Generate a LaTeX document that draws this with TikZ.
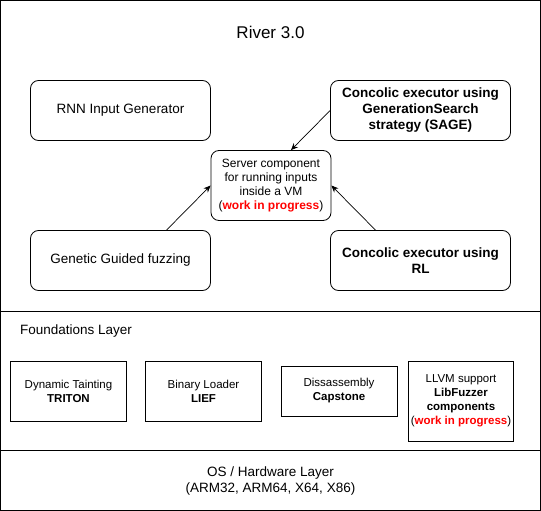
\documentclass[tikz,border=0pt]{standalone}
\usepackage{fontspec}
\setmainfont{Liberation Sans}
\usetikzlibrary{positioning, arrows.meta}

\begin{document}
\begin{tikzpicture}[
    x=1pt, y=-1pt,
    module/.style={
        rectangle,
        draw=black,
        line width=0.8pt,
        minimum width=180pt,
        minimum height=60pt,
        inner sep=2pt,
        rounded corners=8pt,
        align=center,
        font=\fontsize{13.5}{16}\selectfont
    },
    server/.style={
        module,
        minimum width=120pt,
        minimum height=70pt,
        font=\fontsize{12}{14}\selectfont
    },
    base/.style={
        rectangle,
        draw=black,
        line width=0.8pt,
        minimum width=116pt,
        minimum height=60pt,
        inner sep=2pt,
        align=center,
        font=\fontsize{11.5}{14}\selectfont
    },
    layer/.style={draw=black, line width=0.8pt},
    arrow/.style={-{Stealth[length=7pt, width=6pt]}, line width=0.7pt},
    label/.style={font=\fontsize{13.5}{16}\selectfont},
    title/.style={font=\fontsize{17}{20}\selectfont}
]
\definecolor{wip}{RGB}{255,0,0}
\useasboundingbox (-0.5,-0.5) rectangle (540.5,510.5);

% Layers
\draw[layer] (0,0) rectangle (540,311);
\draw[layer] (0,311) rectangle (540,450);
\draw[layer] (0,450) rectangle (540,510);

% Title
\node[title] (river) at (270,32) {River 3.0};

% River components
\node[module] (rnn) at (120,110) {RNN Input Generator};
\node[module] (sage) at (420,110) {\textbf{Concolic executor using}\\\textbf{GenerationSearch}\\\textbf{strategy (SAGE)}};
\node[server] (vmserver) at (270.5,185) {Server component\\for running inputs\\inside a VM\\(\textbf{\textcolor{wip}{work in progress}})};
\node[module] (genetic) at (120,260) {Genetic Guided fuzzing};
\node[module] (rl) at (420,260) {\textbf{Concolic executor using}\\\textbf{RL}};

% Arrows into the server
\draw[arrow] (sage.west) -- ([xshift=20pt]vmserver.north);
\draw[arrow] ([xshift=46pt]genetic.north) -- (vmserver.west);
\draw[arrow] ([xshift=-45pt]rl.north) -- (vmserver.east);

% Foundations layer
\node[label, anchor=west] (foundations) at (16,331) {Foundations Layer};
\node[base] (tainting) at (68,391) {Dynamic Tainting\\\textbf{TRITON}};
\node[base] (loader) at (203,391) {Binary Loader\\\textbf{LIEF}};
\node[base, minimum height=50pt] (disasm) at (338.5,390.5) {Dissassembly\\\textbf{Capstone}};
\node[base, minimum width=104pt, minimum height=80pt] (llvm) at (460.5,400.5) {LLVM support\\\textbf{LibFuzzer}\\\textbf{components}\\(\textbf{\textcolor{wip}{work in progress}})};

% OS / hardware layer
\node[label, align=center] (os) at (270,481) {OS / Hardware Layer\\(ARM32, ARM64, X64, X86)};

\end{tikzpicture}
\end{document}
